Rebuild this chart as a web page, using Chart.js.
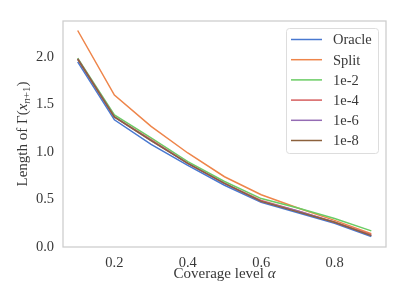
<!DOCTYPE html>
<html>
<head>
<meta charset="utf-8">
<script src="https://cdn.jsdelivr.net/npm/chart.js@4.4.1/dist/chart.umd.min.js"></script>
<style>
  html, body { margin: 0; padding: 0; background: #fff; }
  #wrap { width: 407px; height: 305px; }
</style>
</head>
<body>
<div id="wrap"><canvas id="chart" width="407" height="305"></canvas></div>
<script>
// ─── Data ──────────────────────────────────────────────────────────
const alphas = [0.1, 0.2, 0.3, 0.4, 0.5, 0.6, 0.7, 0.8, 0.9];
const oracle = [1.95, 1.34, 1.08, 0.86, 0.65, 0.47, 0.36, 0.25, 0.11];
const split  = [2.28, 1.60, 1.27, 0.99, 0.74, 0.55, 0.41, 0.28, 0.14];
const reg1e2 = [1.99, 1.39, 1.15, 0.90, 0.69, 0.51, 0.41, 0.30, 0.17];
const reg1e4 = [1.98, 1.37, 1.13, 0.88, 0.67, 0.49, 0.38, 0.26, 0.13];
const reg1e6 = [1.98, 1.37, 1.12, 0.88, 0.67, 0.48, 0.38, 0.26, 0.12];
const reg1e8 = [1.98, 1.37, 1.12, 0.88, 0.67, 0.48, 0.37, 0.26, 0.12];

const seriesNames = ['Oracle', 'Split', '1e-2', '1e-4', '1e-6', '1e-8'];
const seriesData = [oracle, split, reg1e2, reg1e4, reg1e6, reg1e8];
const colors = ['#4878d0', '#ee854a', '#6acc64', '#d65f5f', '#956cb4', '#8c613c'];

const xTicks = [0.2, 0.4, 0.6, 0.8];
const yTicks = [0.0, 0.5, 1.0, 1.5, 2.0];

const FONT = '"Liberation Serif", "DejaVu Serif", serif';
const TEXT = '#383838';

// ─── Frame, legend and axis titles ─────────────────────────────────
const decorations = {
    id: 'decorations',
    afterDatasetsDraw(chart) {
        const { ctx, chartArea: a } = chart;
        ctx.save();
        // axes frame
        ctx.strokeStyle = '#cccccc';
        ctx.lineWidth = 1.25;
        ctx.strokeRect(a.left, a.top, a.right - a.left, a.bottom - a.top);

        // legend box
        const bx = 286.5, by = 28.5, bw = 92, bh = 125, r = 3;
        ctx.beginPath();
        ctx.moveTo(bx + r, by);
        ctx.arcTo(bx + bw, by, bx + bw, by + bh, r);
        ctx.arcTo(bx + bw, by + bh, bx, by + bh, r);
        ctx.arcTo(bx, by + bh, bx, by, r);
        ctx.arcTo(bx, by, bx + bw, by, r);
        ctx.closePath();
        ctx.fillStyle = 'rgba(255,255,255,0.85)';
        ctx.fill();
        ctx.strokeStyle = '#dddddd';
        ctx.lineWidth = 1;
        ctx.stroke();

        ctx.font = '14.5px ' + FONT;
        ctx.textBaseline = 'middle';
        ctx.textAlign = 'left';
        seriesNames.forEach((name, i) => {
            const y = 39.5 + i * 20.2;
            ctx.strokeStyle = colors[i];
            ctx.lineWidth = 1.5;
            ctx.beginPath();
            ctx.moveTo(291, y);
            ctx.lineTo(322, y);
            ctx.stroke();
            ctx.fillStyle = TEXT;
            ctx.fillText(name, 333, y + 1);
        });
        ctx.restore();
    },
    afterDraw(chart) {
        const { ctx, chartArea: a } = chart;
        ctx.save();
        ctx.fillStyle = TEXT;
        ctx.textBaseline = 'alphabetic';

        // x title: Coverage level α
        const main = 'Coverage level ';
        ctx.font = '15px ' + FONT;
        const w1 = ctx.measureText(main).width;
        ctx.font = 'italic 15px ' + FONT;
        const w2 = ctx.measureText('α').width;
        let x = (a.left + a.right) / 2 - (w1 + w2) / 2;
        ctx.font = '15px ' + FONT;
        ctx.fillText(main, x, 278);
        ctx.font = 'italic 15px ' + FONT;
        ctx.fillText('α', x + w1, 278);

        // y title: Length of Γ(x_{n+1})
        const parts = [
            { t: 'Length of Γ(', f: '15px ', dy: 0 },
            { t: 'x', f: 'italic 15px ', dy: 0 },
            { t: 'n', f: 'italic 11px ', dy: 3 },
            { t: '+1', f: '11px ', dy: 3 },
            { t: ')', f: '15px ', dy: 0 }
        ];
        let total = 0;
        parts.forEach(p => { ctx.font = p.f + FONT; p.w = ctx.measureText(p.t).width; total += p.w; });
        ctx.translate(27, (a.top + a.bottom) / 2);
        ctx.rotate(-Math.PI / 2);
        let px = -total / 2;
        parts.forEach(p => {
            ctx.font = p.f + FONT;
            ctx.fillText(p.t, px, p.dy);
            px += p.w;
        });
        ctx.restore();
    }
};

// ─── Chart ─────────────────────────────────────────────────────────
const datasets = seriesNames.map((name, i) => ({
    label: name,
    data: alphas.map((a, k) => ({ x: a, y: seriesData[i][k] })),
    borderColor: colors[i],
    backgroundColor: colors[i],
    borderWidth: 1.5,
    pointRadius: 0,
    tension: 0,
    order: seriesNames.length - i
}));

new Chart(document.getElementById('chart'), {
    type: 'line',
    data: { datasets },
    options: {
        responsive: false,
        animation: false,
        devicePixelRatio: 1,
        layout: { padding: { top: 21, right: 21, left: 0, bottom: 0 } },
        plugins: {
            legend: { display: false },
            tooltip: { enabled: false }
        },
        scales: {
            x: {
                type: 'linear',
                min: 0.06,
                max: 0.94,
                afterBuildTicks: axis => { axis.ticks = xTicks.map(v => ({ value: v })); },
                afterFit: axis => { axis.height = 58; },
                ticks: {
                    color: TEXT,
                    font: { family: FONT, size: 14.5 },
                    padding: 7,
                    maxRotation: 0,
                    callback: v => v.toFixed(1)
                },
                grid: { display: false, drawTicks: false },
                border: { display: false }
            },
            y: {
                type: 'linear',
                min: 0,
                max: 2.38,
                afterBuildTicks: axis => { axis.ticks = yTicks.map(v => ({ value: v })); },
                afterFit: axis => { axis.width = 63; },
                ticks: {
                    color: TEXT,
                    font: { family: FONT, size: 14.5 },
                    padding: 9,
                    callback: v => v.toFixed(1)
                },
                grid: { display: false, drawTicks: false },
                border: { display: false }
            }
        }
    },
    plugins: [decorations]
});
</script>
</body>
</html>
